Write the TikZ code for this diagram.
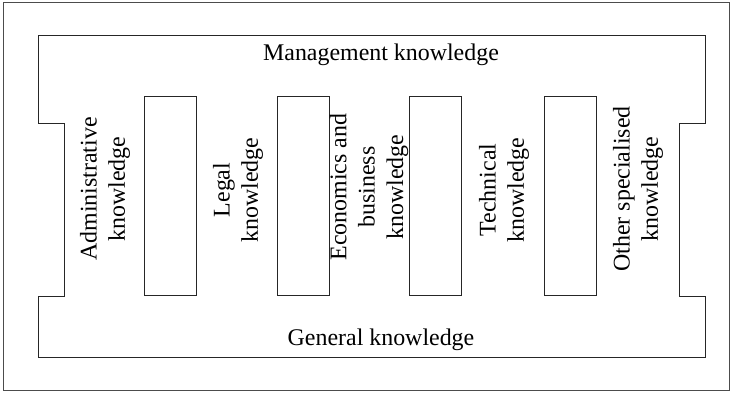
\documentclass[tikz,border=0pt]{standalone}
\usepackage{fontspec}
\setmainfont{Liberation Serif}
\begin{document}
\begin{tikzpicture}[x=1bp,y=-1bp,
  line/.style={draw=black!85,line width=0.9bp},
  pillar/.style={line,minimum width=52bp,minimum height=199bp,inner sep=0pt},
  label/.style={font=\fontsize{24}{28.5}\selectfont,align=center,inner sep=0pt},
  vlabel/.style={label,rotate=90}]
\useasboundingbox (0,0) rectangle (732,392);
% outer frame
\draw[draw=black!70,line width=1bp] (3.5,2.5) rectangle (729,390);
% bracket-shaped body: management on top, general below
\draw[line] (38.5,35) -- (705,35) -- (705,123) -- (679.5,123) -- (679.5,296)
  -- (705,296) -- (705,357) -- (38.5,357) -- (38.5,296) -- (64.5,296)
  -- (64.5,123) -- (38.5,123) -- cycle;
% pillars
\node[pillar] (p1) at (170.2,196.2) {};
\node[pillar] (p2) at (303.3,196.2) {};
\node[pillar] (p3) at (435.5,196.2) {};
\node[pillar] (p4) at (570,196.2) {};
% texts
\node[label] (mgmt) at (381,54.5) {Management knowledge};
\node[label] (gen) at (381,340) {General knowledge};
\node[vlabel] (adm) at (105,189) {Administrative\\knowledge};
\node[vlabel] (leg) at (238,190) {Legal\\knowledge};
\node[vlabel] (eco) at (369,187) {Economics and\\business\\knowledge};
\node[vlabel] (tec) at (504,190) {Technical\\knowledge};
\node[vlabel] (oth) at (638,189) {Other specialised\\knowledge};
\end{tikzpicture}
\end{document}
